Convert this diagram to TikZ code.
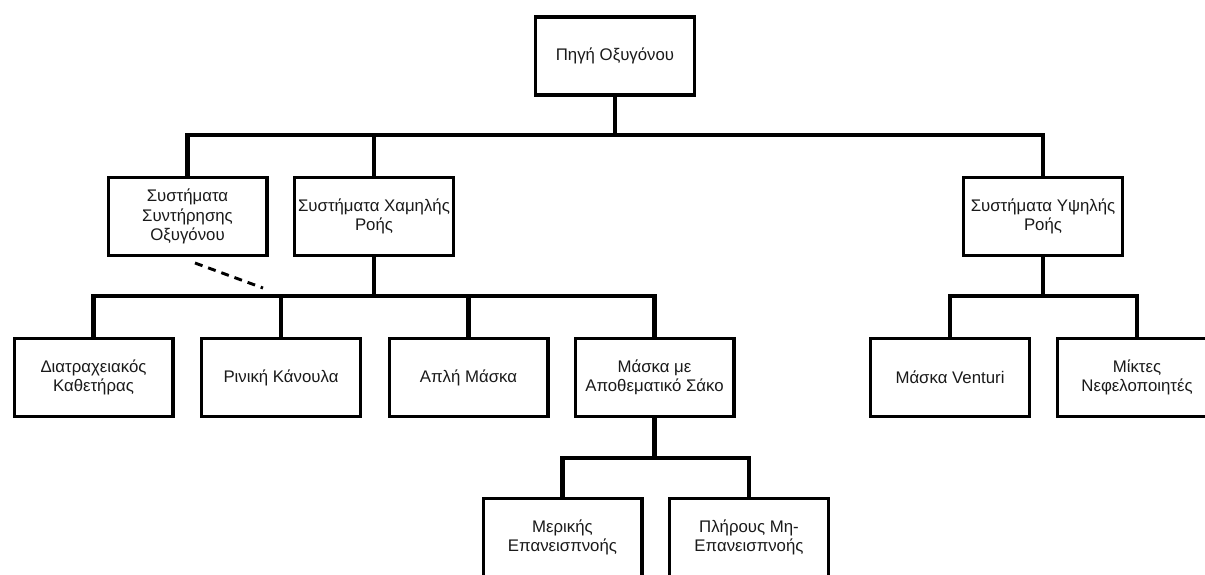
\documentclass[tikz,border=0pt]{standalone}
\usepackage{fontspec}
\setmainfont{Liberation Sans}
\begin{document}
\begin{tikzpicture}[x=0.75pt,y=-0.75pt,
    box/.style={draw=borderColour, line width=2.5pt, fill=white,
        minimum width=119pt, minimum height=58.5pt, inner sep=0pt,
        align=center, text=textColour, font=\fontsize{12.6}{14.6}\selectfont},
    link/.style={draw=borderColour, line width=3.4pt},
    hint/.style={draw=borderColour, line width=2.2pt, dash pattern=on 6pt off 4.5pt}]
    \definecolor{borderColour}{HTML}{000000}
    \definecolor{textColour}{HTML}{1A1A1A}

    % Page frame, the lowest boxes run off the bottom and right
    \useasboundingbox (0,0) rectangle (1205,574);
    \clip (0,0) rectangle (1205,574);

    % Bar heights
    \coordinate (bar1) at (0,135);
    \coordinate (bar2) at (0,296);
    \coordinate (bar3) at (0,458);

    % Draw boxes
    \node[box] (source) at (615,56) {Πηγή Οξυγόνου};

    \node[box] (keep) at (187.5,216.5) {Συστήματα\\Συντήρησης\\Οξυγόνου};
    \node[box] (low)  at (374,216.5)   {Συστήματα Χαμηλής\\Ροής};
    \node[box] (high) at (1043,216.5)  {Συστήματα Υψηλής\\Ροής};

    \node[box] (trach)   at (93.5,377.5)  {Διατραχειακός\\Καθετήρας};
    \node[box] (nasal)   at (281,377.5)   {Ρινική Κάνουλα};
    \node[box] (simple)  at (468.5,377.5) {Απλή Μάσκα};
    \node[box] (bag)     at (654.5,377.5) {Μάσκα με\\Αποθεματικό Σάκο};
    \node[box] (venturi) at (950,377.5)   {Μάσκα Venturi};
    \node[box] (nebul)   at (1137,377.5)  {Μίκτες\\Νεφελοποιητές};

    \node[box] (partial) at (562.5,537.5) {Μερικής\\Επανεισπνοής};
    \node[box] (nonre)   at (749,537.5)   {Πλήρους Μη-\\Επανεισπνοής};

    % Draw links from the source
    \draw[link] (source.south) -- (source.south |- bar1);
    \draw[link] (keep.north) |- (high.north |- bar1) -- (high.north);
    \draw[link] (low.north) -- (low.north |- bar1);

    % Draw links for low flow
    \draw[link] (low.south) -- (low.south |- bar2);
    \draw[link] (trach.north) |- (bag.north |- bar2) -- (bag.north);
    \draw[link] (nasal.north) -- (nasal.north |- bar2);
    \draw[link] (simple.north) -- (simple.north |- bar2);

    % Draw links for high flow
    \draw[link] (high.south) -- (high.south |- bar2);
    \draw[link] (venturi.north) |- (nebul.north |- bar2) -- (nebul.north);

    % Draw links for the bag mask
    \draw[link] (bag.south) -- (bag.south |- bar3);
    \draw[link] (partial.north) |- (nonre.north |- bar3) -- (nonre.north);

    % Dashed hint below the maintenance box
    \coordinate (hintStart) at (195,263);
    \coordinate (hintEnd) at (263,288);
    \draw[hint] (hintStart) -- (hintEnd);

\end{tikzpicture}
\end{document}
